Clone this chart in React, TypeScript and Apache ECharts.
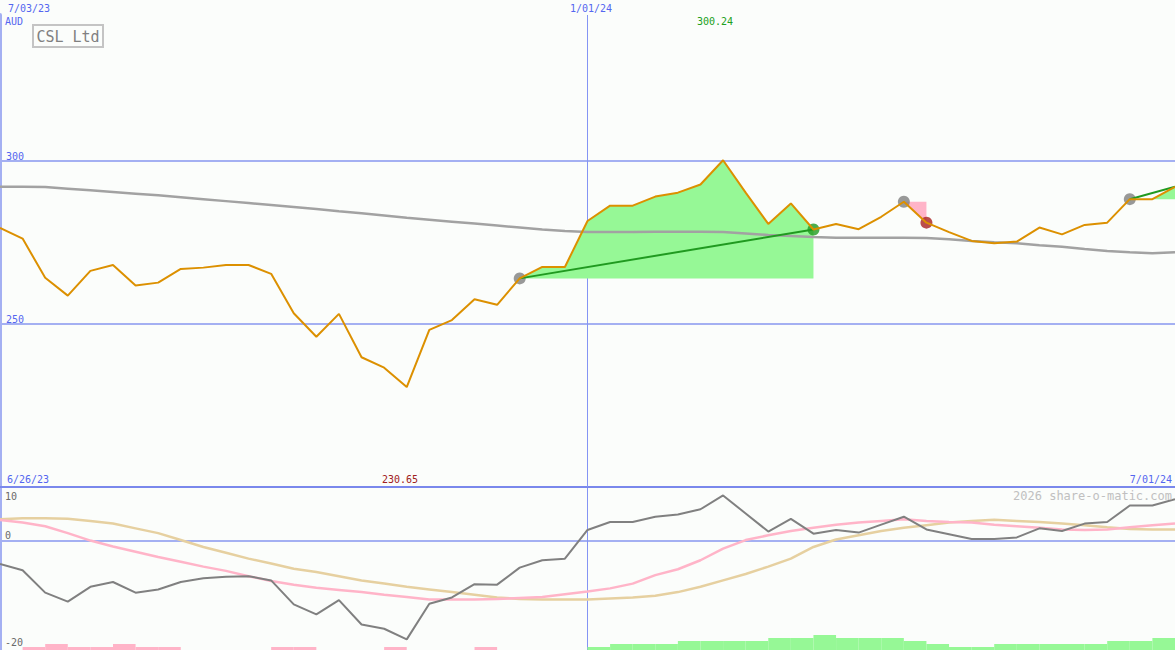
import React, { useEffect, useRef } from "react";
import * as echarts from "echarts";

// ---------- data ----------
const LAST_WEEK = 52;
const DIVIDER_WEEK = 26;

const PRICE = [
  279.5, 276.2, 264.2, 258.7, 266.3, 268.1, 261.8, 262.7, 266.9, 267.3,
  268.1, 268.1, 265.4, 253.3, 246.1, 253.1, 239.8, 236.6, 230.65, 248.2,
  251.2, 257.6, 255.9, 264.0, 267.5, 267.5, 281.6, 286.3, 286.3, 289.1,
  290.3, 292.8, 300.24, 290.3, 280.7, 287.0, 279.0, 280.7, 279.1, 282.9,
  287.5, 281.1, 278.2, 275.5, 274.8, 275.3, 279.6, 277.5, 280.4, 281.1,
  288.3, 288.3, 292.1,
];

const MOVING_AVG = [
  292.1, 292.1, 292.0, 291.5, 291.0, 290.5, 290.0, 289.5, 288.9, 288.3,
  287.7, 287.1, 286.5, 285.9, 285.3, 284.6, 284.0, 283.3, 282.6, 282.0,
  281.4, 280.8, 280.2, 279.6, 279.0, 278.5, 278.2, 278.2, 278.2, 278.3,
  278.3, 278.3, 278.2, 277.8, 277.3, 277.0, 276.7, 276.5, 276.5, 276.5,
  276.5, 276.4, 276.0, 275.5, 275.1, 274.8, 274.2, 273.7, 273.0, 272.4,
  272.0, 271.7, 272.0,
];

const MOMENTUM = [
  -4.3, -5.5, -9.7, -11.4, -8.6, -7.7, -9.7, -9.1, -7.7, -7.0,
  -6.7, -6.6, -7.4, -11.9, -13.8, -11.1, -15.7, -16.5, -18.5, -11.8,
  -10.6, -8.1, -8.2, -5.0, -3.6, -3.3, 2.1, 3.6, 3.6, 4.6,
  5.0, 6.0, 8.6, 5.2, 1.8, 4.2, 1.4, 2.1, 1.6, 3.1,
  4.6, 2.2, 1.3, 0.4, 0.4, 0.7, 2.4, 1.9, 3.3, 3.6,
  6.7, 6.7, 7.9,
];

const SIGNAL_FAST = [
  4.0, 3.5, 2.8, 1.5, 0.1, -1.0, -2.0, -3.0, -3.9, -4.8,
  -5.6, -6.6, -7.5, -8.2, -8.8, -9.2, -9.6, -10.1, -10.5, -11.0,
  -11.0, -11.0, -10.9, -10.7, -10.5, -10.0, -9.5, -8.9, -8.0, -6.4,
  -5.3, -3.6, -1.4, 0.2, 1.1, 1.9, 2.5, 3.1, 3.5, 3.8,
  4.1, 3.8, 3.6, 3.5, 3.1, 2.8, 2.5, 2.2, 2.1, 2.2,
  2.6, 3.0, 3.3,
];

const SIGNAL_SLOW = [
  4.1, 4.3, 4.3, 4.2, 3.8, 3.3, 2.4, 1.5, 0.2, -1.1,
  -2.2, -3.3, -4.2, -5.2, -5.8, -6.6, -7.4, -8.0, -8.6, -9.1,
  -9.6, -10.1, -10.6, -10.9, -11.0, -11.0, -11.0, -10.8, -10.6, -10.3,
  -9.6, -8.6, -7.4, -6.2, -4.8, -3.3, -1.1, 0.3, 1.1, 1.9,
  2.5, 3.0, 3.5, 3.8, 4.0, 3.8, 3.6, 3.3, 3.0, 2.6,
  2.3, 2.2, 2.2,
];

// weekly strength bars (one per week interval)
const BARS_DOWN = [
  0, 1, 2, 1, 1, 2, 1, 1, 0, 0, 0, 0, 1, 1, 0, 0, 0, 1, 0, 0,
  0, 1, 0, 0, 0, 0, 0, 0, 0, 0, 0, 0, 0, 0, 0, 0, 0, 0, 0, 0,
  0, 0, 0, 0, 0, 0, 0, 0, 0, 0, 0, 0,
];
const BARS_UP = [
  0, 0, 0, 0, 0, 0, 0, 0, 0, 0, 0, 0, 0, 0, 0, 0, 0, 0, 0, 0,
  0, 0, 0, 0, 0, 0, 1, 2, 2, 2, 3, 3, 3, 3, 4, 4, 5, 4, 4, 4,
  3, 2, 1, 1, 2, 2, 2, 2, 2, 3, 3, 4,
];

const TRADES = [
  { entry: 23, exit: 36, kind: "win" },
  { entry: 40, exit: 41, kind: "loss" },
  { entry: 50, exit: 52, kind: "open" },
];

const MAIN_LEVELS = [300, 250];
const LOWER_LEVELS = [10, 0, -20];
const TOP_DATES = ["7/03/23", "1/01/24"];
const BOTTOM_DATES = ["6/26/23", "7/01/24"];
const TITLE = "CSL Ltd";
const CURRENCY = "AUD";
const CREDIT = "2026 share-o-matic.com";

// ---------- styles ----------
const MAIN_MIN = 200;
const MAIN_MAX = 344.8;
const LOW_MIN = -20.5;
const LOW_MAX = 10;
const BAR_MAX = 54;

const BG = "#fbfdfb";
const GUIDE = "#a4b0f2";
const DIVIDER = "#8494f4";
const SEPARATOR = "#7a88ec";
const LABEL_BLUE = "#5466f0";
const MONO = "'DejaVu Sans Mono', 'Liberation Mono', monospace";
const ORANGE = "#dc9000";
const MA_GRAY = "#a2a2a2";
const FILL_GREEN = "#96f896";
const FILL_PINK = "#ffb4c8";
const LINE_GREEN = "#209a20";
const DOT_GRAY = "#808080";
const DOT_RED = "#aa2020";

const weekPairs = (vals: number[]) => vals.map((v, i) => [i, v]);

export default function App() {
  const ref = useRef<HTMLDivElement>(null);

  useEffect(() => {
    if (!ref.current) return;
    const chart = echarts.init(ref.current, null, { renderer: "svg" });

    const maxPrice = Math.max(...PRICE);
    const minPrice = Math.min(...PRICE);

    const guideSeries: any[] = [
      ...MAIN_LEVELS.map((lv) => ({
        type: "line",
        xAxisIndex: 0,
        yAxisIndex: 0,
        data: [
          [0, lv],
          [LAST_WEEK, lv],
        ],
        symbol: "none",
        silent: true,
        z: 1,
        lineStyle: { color: GUIDE, width: 2 },
      })),
      {
        type: "line",
        xAxisIndex: 0,
        yAxisIndex: 0,
        data: [
          [DIVIDER_WEEK, MAIN_MIN],
          [DIVIDER_WEEK, MAIN_MAX],
        ],
        symbol: "none",
        silent: true,
        z: 1,
        lineStyle: { color: DIVIDER, width: 1 },
      },
      {
        type: "line",
        xAxisIndex: 1,
        yAxisIndex: 1,
        data: [
          [0, 0],
          [LAST_WEEK, 0],
        ],
        symbol: "none",
        silent: true,
        z: 1,
        lineStyle: { color: GUIDE, width: 2 },
      },
      {
        type: "line",
        xAxisIndex: 1,
        yAxisIndex: 1,
        data: [
          [DIVIDER_WEEK, LOW_MIN],
          [DIVIDER_WEEK, LOW_MAX],
        ],
        symbol: "none",
        silent: true,
        z: 1,
        lineStyle: { color: DIVIDER, width: 1 },
      },
    ];

    const tradeFill = {
      type: "custom",
      xAxisIndex: 0,
      yAxisIndex: 0,
      z: 2,
      silent: true,
      data: TRADES.map((t) => [t.entry, PRICE[t.entry], t.exit]),
      encode: { x: [0, 2], y: 1 },
      renderItem: (params: any, api: any) => {
        const t = TRADES[params.dataIndex];
        const base = PRICE[t.entry];
        const pts: number[][] = [];
        for (let n = t.entry; n <= t.exit; n++) pts.push(api.coord([n, PRICE[n]]));
        pts.push(api.coord([t.exit, base]));
        pts.push(api.coord([t.entry, base]));
        return {
          type: "polygon",
          shape: { points: pts },
          style: { fill: t.kind === "loss" ? FILL_PINK : FILL_GREEN },
        };
      },
    };

    const trendSeries = TRADES.filter((t) => t.kind !== "loss").map((t) => ({
      type: "line",
      xAxisIndex: 0,
      yAxisIndex: 0,
      data: [
        [t.entry, PRICE[t.entry]],
        [t.exit, PRICE[t.exit]],
      ],
      symbol: "none",
      silent: true,
      z: 5,
      lineStyle: { color: LINE_GREEN, width: 2 },
    }));

    const entryDots = {
      type: "scatter",
      xAxisIndex: 0,
      yAxisIndex: 0,
      data: TRADES.map((t) => [t.entry, PRICE[t.entry]]),
      symbolSize: 12,
      itemStyle: { color: DOT_GRAY },
      silent: true,
      z: 4,
    };
    const exitDots = {
      type: "scatter",
      xAxisIndex: 0,
      yAxisIndex: 0,
      data: TRADES.filter((t) => t.kind !== "open").map((t) => ({
        value: [t.exit, PRICE[t.exit]],
        itemStyle: { color: t.kind === "win" ? LINE_GREEN : DOT_RED },
      })),
      symbolSize: 12,
      silent: true,
      z: 4,
    };

    const text = (
      str: string,
      x: number,
      y: number,
      fill: string,
      size = 10,
      align = "left"
    ) => ({
      type: "text",
      x,
      y,
      silent: true,
      z: 10,
      style: {
        text: str,
        fill,
        font: `${size}px ${MONO}`,
        align,
        verticalAlign: "middle",
      },
    });

    const option: any = {
      animation: false,
      backgroundColor: BG,
      grid: [
        { left: 0, top: 15, width: 1175, height: 472 },
        { left: 0, top: 488, width: 1175, height: 162 },
      ],
      xAxis: [
        {
          type: "value",
          gridIndex: 0,
          min: 0,
          max: LAST_WEEK,
          axisLine: { show: true, onZero: false, lineStyle: { color: SEPARATOR, width: 2 } },
          axisTick: { show: false },
          axisLabel: { show: false },
          splitLine: { show: false },
        },
        {
          type: "value",
          gridIndex: 1,
          min: 0,
          max: LAST_WEEK,
          show: false,
          splitLine: { show: false },
        },
        {
          type: "category",
          gridIndex: 1,
          data: BARS_UP.map((_, i) => String(i)),
          boundaryGap: true,
          show: false,
        },
      ],
      yAxis: [
        {
          type: "value",
          gridIndex: 0,
          min: MAIN_MIN,
          max: MAIN_MAX,
          axisLine: { show: true, lineStyle: { color: GUIDE, width: 4 } },
          axisTick: { show: false },
          axisLabel: { show: false },
          splitLine: { show: false },
        },
        {
          type: "value",
          gridIndex: 1,
          min: LOW_MIN,
          max: LOW_MAX,
          axisLine: { show: true, lineStyle: { color: GUIDE, width: 4 } },
          axisTick: { show: false },
          axisLabel: { show: false },
          splitLine: { show: false },
        },
        {
          type: "value",
          gridIndex: 1,
          min: 0,
          max: BAR_MAX,
          show: false,
          splitLine: { show: false },
        },
      ],
      series: [
        ...guideSeries,
        tradeFill,
        {
          type: "line",
          name: "average",
          xAxisIndex: 0,
          yAxisIndex: 0,
          data: weekPairs(MOVING_AVG),
          symbol: "none",
          silent: true,
          z: 3,
          lineStyle: { color: MA_GRAY, width: 2.5 },
        },
        entryDots,
        exitDots,
        ...trendSeries,
        {
          type: "line",
          name: "price",
          xAxisIndex: 0,
          yAxisIndex: 0,
          data: weekPairs(PRICE),
          symbol: "none",
          silent: true,
          z: 6,
          lineStyle: { color: ORANGE, width: 2 },
        },
        {
          type: "bar",
          xAxisIndex: 2,
          yAxisIndex: 2,
          data: BARS_DOWN,
          barCategoryGap: "0%",
          barGap: "-100%",
          itemStyle: { color: FILL_PINK },
          silent: true,
          z: 2,
        },
        {
          type: "bar",
          xAxisIndex: 2,
          yAxisIndex: 2,
          data: BARS_UP,
          barCategoryGap: "0%",
          barGap: "-100%",
          itemStyle: { color: FILL_GREEN },
          silent: true,
          z: 2,
        },
        {
          type: "line",
          xAxisIndex: 1,
          yAxisIndex: 1,
          data: weekPairs(SIGNAL_SLOW),
          symbol: "none",
          silent: true,
          z: 3,
          lineStyle: { color: "#e6d0a0", width: 2.5 },
        },
        {
          type: "line",
          xAxisIndex: 1,
          yAxisIndex: 1,
          data: weekPairs(SIGNAL_FAST),
          symbol: "none",
          silent: true,
          z: 4,
          lineStyle: { color: "#ffb4c8", width: 2.5 },
        },
        {
          type: "line",
          xAxisIndex: 1,
          yAxisIndex: 1,
          data: weekPairs(MOMENTUM),
          symbol: "none",
          silent: true,
          z: 5,
          lineStyle: { color: "#808080", width: 2 },
        },
      ],
      graphic: [
        text(TOP_DATES[0], 8, 8, LABEL_BLUE),
        text(TOP_DATES[1], 591, 8, LABEL_BLUE, 10, "center"),
        text(CURRENCY, 5, 21, LABEL_BLUE),
        {
          type: "rect",
          silent: true,
          z: 10,
          shape: { x: 33, y: 25, width: 70, height: 22 },
          style: { fill: "none", stroke: "#c4c4c4", lineWidth: 2 },
        },
        text(TITLE, 68, 36.5, "#808080", 15, "center"),
        text(maxPrice.toFixed(2), 715, 21, "#20a020", 10, "center"),
        text(String(MAIN_LEVELS[0]), 6, 156, LABEL_BLUE),
        text(String(MAIN_LEVELS[1]), 6, 319, LABEL_BLUE),
        text(BOTTOM_DATES[0], 7, 479, LABEL_BLUE),
        text(minPrice.toFixed(2), 400, 479, "#a02020", 10, "center"),
        text(BOTTOM_DATES[1], 1172, 479, LABEL_BLUE, 10, "right"),
        text(CREDIT, 1172, 496, "#c0c0c0", 12, "right"),
        text(String(LOWER_LEVELS[0]), 5, 496, "#6a6a6a"),
        text(String(LOWER_LEVELS[1]), 5, 535, "#6a6a6a"),
        text(String(LOWER_LEVELS[2]), 5, 642, "#6a6a6a"),
      ],
    };

    chart.setOption(option);
    return () => chart.dispose();
  }, []);

  return (
    <div
      ref={ref}
      style={{ position: "fixed", left: 0, top: 0, width: 1175, height: 650 }}
    />
  );
}
